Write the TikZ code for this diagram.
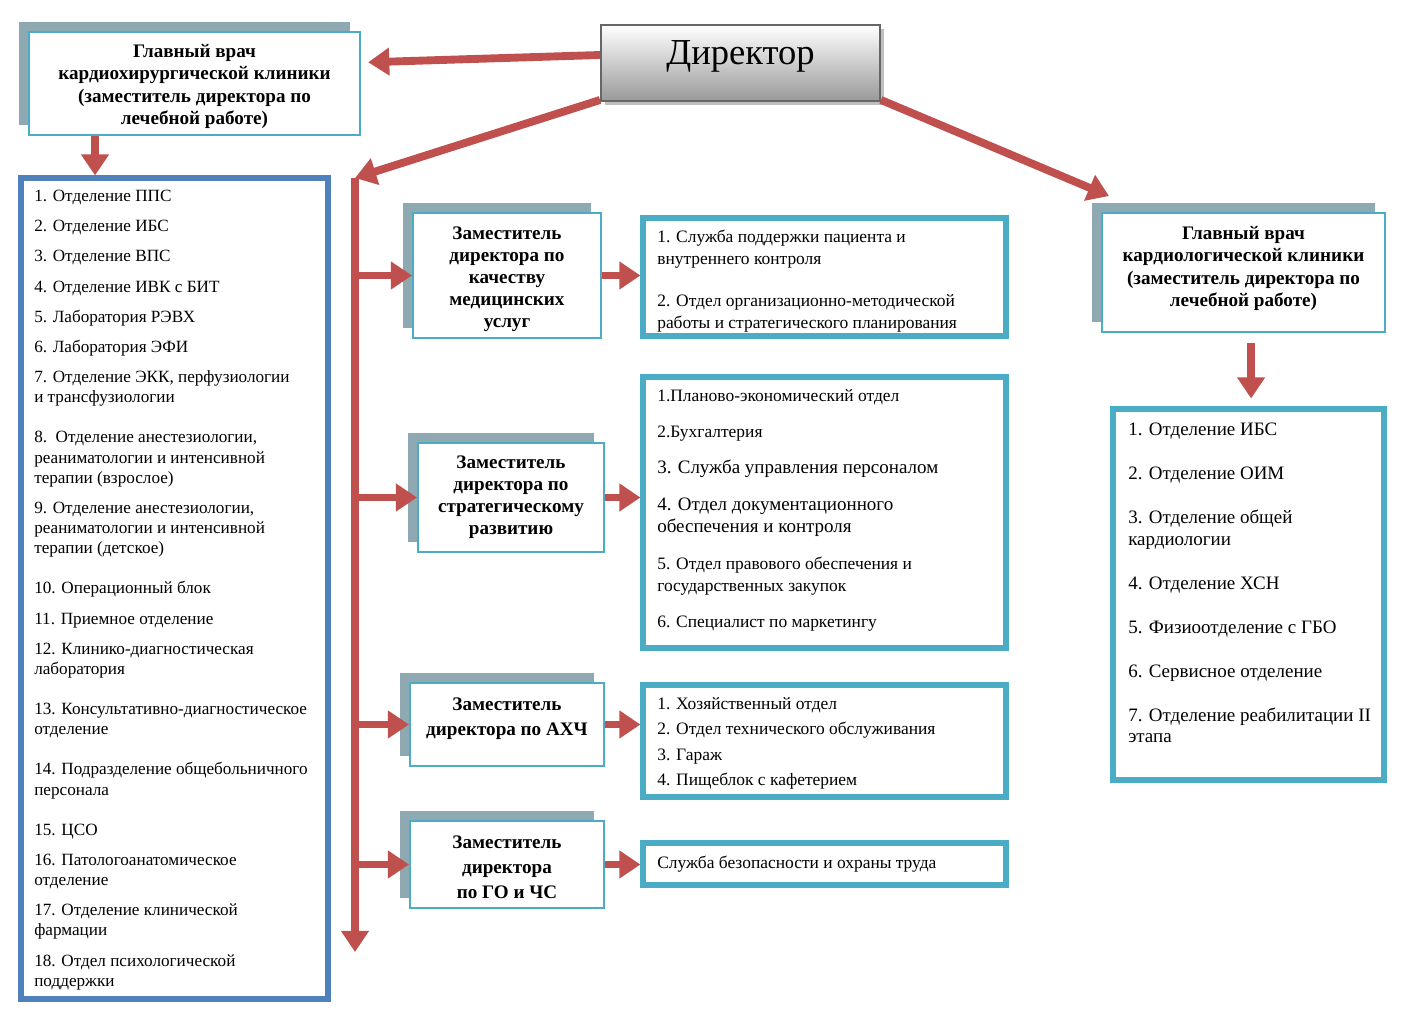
\documentclass[tikz,border=0pt]{standalone}
\usepackage{fontspec}
\setmainfont{Liberation Serif}
\usetikzlibrary{arrows.meta,shadows,fit,calc}

\definecolor{arrowred}{HTML}{C0504D}
\definecolor{aqua}{HTML}{4BACC6}
\definecolor{listblue}{HTML}{4F81BD}
\definecolor{shadowgray}{HTML}{8EA9B1}

\tikzset{
  headbox/.style={draw=aqua, line width=1.4pt, fill=white, inner sep=0pt,
    general shadow={fill=shadowgray, shadow xshift=-0.26cm, shadow yshift=0.26cm}},
  headtext/.style={align=center, inner sep=0pt, font=\bfseries\fontsize{13.6}{16}\selectfont},
  deputytext/.style={headtext, font=\bfseries\fontsize{13.6}{15.6}\selectfont},
  listbox/.style={draw=aqua, line width=3.6pt, fill=white, inner sep=0pt},
  listtext/.style={anchor=north west, inner sep=0pt, align=left,
    font=\fontsize{12.4}{15.6}\selectfont},
  redarrow/.style={draw=arrowred, line width=5.6pt, -{Triangle[width=19pt,length=15pt]}},
}

\begin{document}
\begin{tikzpicture}[x=0.025cm,y=-0.025cm]
\useasboundingbox (0,0) rectangle (1410,1024);

% director
\node[draw=black!60, line width=1.4pt, top color=white, bottom color=black!40, inner sep=0pt,
  general shadow={fill=black!25, shadow xshift=0.1cm, shadow yshift=-0.1cm},
  fit={(601,25)(880,101)}] (director) {};
\node[anchor=base, inner sep=0pt, font=\fontsize{26}{30}\selectfont] (directortext) at ([yshift=-0.05cm]director.center) {Директор};

% heads
\node[headbox, fit={(29,32)(360,135)}] (cardsurg) {};
\node[headtext] (cardsurgtext) at ([yshift=-0.075cm]cardsurg.center) {Главный врач\\кардиохирургической клиники\\(заместитель директора по\\лечебной работе)};
\node[headbox, fit={(1102,213)(1385,332)}] (cardio) {};
\node[headtext] (cardiotext) at ([yshift=0.1cm]cardio.center) {Главный врач\\кардиологической клиники\\(заместитель директора по\\лечебной работе)};

% deputies
\node[headbox, fit={(413,213)(601,338)}] (qual) {};
\node[deputytext] (qualtext) at ([yshift=-0.09cm]qual.center) {Заместитель\\директора по\\качеству\\медицинских\\услуг};
\node[headbox, fit={(418,443)(604,552)}] (strat) {};
\node[deputytext] (strattext) at (strat.center) {Заместитель\\директора по\\стратегическому\\развитию};
\node[headbox, fit={(410,683)(604,766)}] (ahch) {};
\node[deputytext, font=\bfseries\fontsize{13.6}{17.6}\selectfont] (ahchtext) at ([yshift=0.14cm]ahch.center) {Заместитель\\директора по АХЧ};
\node[headbox, fit={(410,821)(604,908)}] (gochs) {};
\node[deputytext, font=\bfseries\fontsize{13.6}{17.6}\selectfont] (gochstext) at ([yshift=-0.075cm]gochs.center) {Заместитель\\директора\\по ГО и ЧС};

% lists
\node[listbox, draw=listblue, fit={(21,178)(328,999)}] (surglist) {};
\node[listtext, font=\fontsize{12.2}{14.35}\selectfont] (surgitems) at (34,190) {1. Отделение ППС\\[7.1pt]
2. Отделение ИБС\\[7.1pt]
3. Отделение ВПС\\[7.1pt]
4. Отделение ИВК с БИТ\\[7.1pt]
5. Лаборатория РЭВХ\\[7.1pt]
6. Лаборатория ЭФИ\\[7.1pt]
7. Отделение ЭКК, перфузиологии\\
и трансфузиологии\\[14.2pt]
8.\ \ Отделение анестезиологии,\\
реаниматологии и интенсивной\\
терапии (взрослое)\\[7.1pt]
9. Отделение анестезиологии,\\
реаниматологии и интенсивной\\
терапии (детское)\\[14.2pt]
10. Операционный блок\\[7.1pt]
11. Приемное отделение\\[7.1pt]
12. Клинико-диагностическая\\
лаборатория\\[14.2pt]
13. Консультативно-диагностическое\\
отделение\\[14.2pt]
14. Подразделение общебольничного\\
персонала\\[14.2pt]
15. ЦСО\\[7.1pt]
16. Патологоанатомическое\\
отделение\\[7.1pt]
17. Отделение клинической\\
фармации\\[7.1pt]
18. Отдел психологической\\
поддержки};

\node[listbox, fit={(643,218)(1006,336)}] (qualsvc) {};
\node[listtext] (qualitems) at (657,230) {1. Служба поддержки пациента и\\
внутреннего контроля\\[14pt]
2. Отдел организационно-методической\\
работы и стратегического планирования};

\node[listbox, fit={(643,377)(1006,648)}] (stratsvc) {};
\node[listtext] (stratitems) at (657,389) {1.Планово-экономический отдел\\[10pt]
2.Бухгалтерия\\[10.5pt]
{\fontsize{13.5}{15.6}\selectfont 3. Служба управления персоналом}\\[10.5pt]
{\fontsize{13.5}{15.6}\selectfont 4. Отдел документационного}\\
{\fontsize{13.5}{15.6}\selectfont обеспечения и контроля}\\[11pt]
5. Отдел правового обеспечения и\\
государственных закупок\\[9.5pt]
6. Специалист по маркетингу};

\node[listbox, fit={(643,685)(1006,797)}] (ahchsvc) {};
\node[listtext, font=\fontsize{12.4}{18.2}\selectfont] (ahchitems) at (657,697) {1. Хозяйственный отдел\\
2. Отдел технического обслуживания\\
3. Гараж\\
4. Пищеблок с кафетерием};

\node[listbox, fit={(643,843)(1006,885)}] (gochssvc) {};
\node[listtext] (gochsitems) at (657,856) {Служба безопасности и охраны труда};

\node[listbox, fit={(1113,409)(1384,780)}] (cardiolist) {};
\node[listtext, font=\fontsize{13.5}{15.6}\selectfont] (cardioitems) at (1128,423) {1. Отделение ИБС\\[15.6pt]
2. Отделение ОИМ\\[15.6pt]
3. Отделение общей\\
кардиологии\\[15.6pt]
4. Отделение ХСН\\[15.6pt]
5. Физиоотделение с ГБО\\[15.6pt]
6. Сервисное отделение\\[15.6pt]
7. Отделение реабилитации II\\
этапа};

% arrows
\coordinate (trunktop) at (355,178);
\coordinate (trunkend) at (355,952);
\draw[redarrow] ([yshift=0.2cm]director.west) -- ([xshift=0.18cm,yshift=0.53cm]cardsurg.east);
\draw[redarrow] ([yshift=0.05cm]director.south west) -- (trunktop);
\draw[redarrow] (trunktop) -- (trunkend);
\draw[redarrow] ([yshift=0.05cm]director.south east) -- ([xshift=0.2cm,yshift=0.4cm]cardio.north west);
\draw[redarrow] ([xshift=1.675cm]cardsurg.south west) coordinate (d) -- (d |- surglist.north);
\draw[redarrow] ([xshift=0.19cm,yshift=-0.25cm]cardio.south) coordinate (c) -- ($(c |- cardiolist.north)+(0,-8)$);
\foreach \b in {qual,strat,ahch,gochs}
  \draw[redarrow] (trunktop |- \b.west) -- (\b.west);
\foreach \a/\b in {qual/qualsvc,strat/stratsvc,ahch/ahchsvc,gochs/gochssvc}
  \draw[redarrow] (\a.east) -- (\a.east -| \b.west);
\end{tikzpicture}
\end{document}
